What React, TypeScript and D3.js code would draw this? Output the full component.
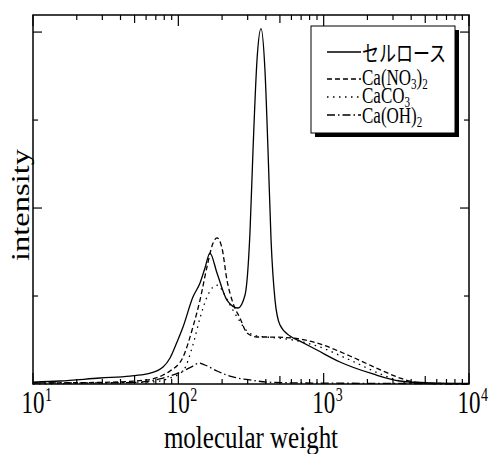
import React from 'react';
import * as d3 from 'd3';

// molecular weight vs intensity
const cellulose: [number, number][] = [
  [10, 0.011], [15.3, 0.017], [28.9, 0.034], [46.5, 0.045], [60.8, 0.057], [78.5, 0.097],
  [87.7, 0.148], [98, 0.239], [107.7, 0.324], [126, 0.494], [141, 0.574], [152.5, 0.659],
  [165, 0.744], [184.5, 0.631], [216, 0.477], [257.5, 0.432], [287.7, 0.506], [311, 0.858],
  [326.5, 1.33], [347.7, 1.84], [370.7, 2.02], [394.7, 1.78], [414, 1.33], [434.5, 0.818],
  [462.7, 0.477], [500.7, 0.335], [586.8, 0.273], [687, 0.244], [899, 0.193], [1294, 0.125],
  [2183, 0.057], [3350, 0.017], [5392, 0.006], [10000, 0.003],
];
const caNO3: [number, number][] = [
  [10, 0.006], [28.9, 0.009], [60.8, 0.023], [78.5, 0.051], [87.7, 0.074], [107.7, 0.153],
  [126, 0.324], [141, 0.477], [157.4, 0.665], [173.4, 0.801], [184.5, 0.83], [199.7, 0.773],
  [216, 0.591], [237.7, 0.46], [265.5, 0.375], [297, 0.29], [347.7, 0.267], [407, 0.267],
  [615, 0.261], [899, 0.233], [1517, 0.159], [2559, 0.074], [3350, 0.034], [4249, 0.011],
  [6321, 0.003], [10000, 0.0],
];
const caCO3: [number, number][] = [
  [10, 0.0], [28.9, 0.006], [63.8, 0.011], [87.7, 0.034], [107.7, 0.074], [126, 0.222],
  [141, 0.375], [157.4, 0.494], [173.4, 0.551], [187.5, 0.562], [203, 0.523], [226.8, 0.449],
  [253.5, 0.381], [297, 0.301], [347.7, 0.273], [407, 0.267], [615, 0.25], [899, 0.216],
  [1517, 0.136], [2559, 0.051], [3350, 0.017], [4603, 0.003], [10000, 0.0],
];
const caOH2: [number, number][] = [
  [10, 0.006], [28.9, 0.006], [54.5, 0.011], [78.5, 0.034], [107.7, 0.074], [126, 0.102],
  [138.7, 0.119], [152.5, 0.108], [184.5, 0.074], [237.7, 0.04], [311, 0.023], [407, 0.011],
  [687, 0.006], [3350, 0.003], [10000, 0.0],
];

const xMajor = [10, 100, 1000, 10000];
const xExponents = ['1', '2', '3', '4'];
const yMajor = [1, 2];
const yMinor = [0.5, 1.5];

const legendNames = ['セルロース', 'Ca(NO3)2', 'CaCO3', 'Ca(OH)2'];

const serif = '"Liberation Serif", "Times New Roman", serif';
const jp = '"Noto Sans CJK JP", sans-serif';

const App = () => {
  const left = 33, right = 469, top = 15, bottom = 384;
  const x = d3.scaleLog().domain([10, 10000]).range([left, right]);
  const y = d3.scaleLinear().domain([0, 2.097]).range([bottom, top]);

  const line = d3.line<[number, number]>()
    .x(d => x(d[0]))
    .y(d => y(d[1]))
    .curve(d3.curveMonotoneX);

  const series = [
    { data: cellulose, dash: null },
    { data: caNO3, dash: '5,3' },
    { data: caCO3, dash: '1.5,4.5' },
    { data: caOH2, dash: '8,3,1.5,3' },
  ];

  // minor ticks in each decade
  const minor: number[] = [];
  [10, 100, 1000].forEach(d => {
    for (let k = 2; k <= 9; k++) minor.push(d * k);
  });

  const sy = 1.35;

  return (
    <svg width={491} height={454} style={{ position: 'absolute', left: 0, top: 0, background: '#fff' }}>
      <g fill="none" stroke="#000" strokeWidth={1.3}>
        {series.map((s, i) => (
          <path key={i} d={line(s.data) || ''} strokeDasharray={s.dash || undefined} />
        ))}
      </g>

      {/* ticks */}
      <g stroke="#000" strokeWidth={1.2}>
        {minor.map(v => {
          const len = v / Math.pow(10, Math.floor(Math.log10(v) + 1e-9)) === 5 ? 8 : 5;
          return (
            <g key={v}>
              <line x1={x(v)} x2={x(v)} y1={bottom} y2={bottom - len} />
              <line x1={x(v)} x2={x(v)} y1={top} y2={top + len} />
            </g>
          );
        })}
        {xMajor.map(v => (
          <g key={v}>
            <line x1={x(v)} x2={x(v)} y1={bottom} y2={bottom - 11} />
            <line x1={x(v)} x2={x(v)} y1={top} y2={top + 11} />
          </g>
        ))}
        {yMajor.map(v => (
          <g key={v}>
            <line x1={left} x2={left + 9} y1={y(v)} y2={y(v)} />
            <line x1={right} x2={right - 9} y1={y(v)} y2={y(v)} />
          </g>
        ))}
        {yMinor.map(v => (
          <g key={v}>
            <line x1={left} x2={left + 5} y1={y(v)} y2={y(v)} />
            <line x1={right} x2={right - 5} y1={y(v)} y2={y(v)} />
          </g>
        ))}
      </g>
      <rect x={left} y={top} width={right - left} height={bottom - top} fill="none" stroke="#000" strokeWidth={1.5} />

      {/* tick labels */}
      {xMajor.map((v, i) => (
        <g key={v} transform={`translate(${x(v)},413) scale(1,${sy})`} fontFamily={serif}>
          <text textAnchor="middle" fontSize={23}>10</text>
          <text x={12} y={-9} fontSize={14}>{xExponents[i]}</text>
        </g>
      ))}

      <g transform={`translate(251,448) scale(1,1.25)`}>
        <text textAnchor="middle" fontFamily={serif} fontSize={25}>molecular weight</text>
      </g>
      <g transform={`translate(29,205) rotate(-90) scale(1.3,1)`}>
        <text textAnchor="middle" fontFamily={serif} fontSize={25}>intensity</text>
      </g>

      {/* legend */}
      <rect x={315} y={30} width={144} height={107} fill="#000" />
      <rect x={311} y={26} width={144} height={107} fill="#fff" stroke="#000" strokeWidth={1} />
      <g fill="none" stroke="#000" strokeWidth={1.3}>
        {series.map((s, i) => {
          const ly = [52, 79, 97, 115][i];
          return <line key={i} x1={327} x2={361} y1={ly} y2={ly} strokeDasharray={s.dash || undefined} />;
        })}
      </g>
      <g transform={`translate(362,61) scale(1,1.3)`}>
        <text fontFamily={jp} fontSize={17}>{legendNames[0]}</text>
      </g>
      <g transform={`translate(362,85) scale(1,${sy})`} fontFamily={serif} fontSize={17}>
        <text>Ca(NO<tspan fontSize={11} dy={3}>3</tspan><tspan dy={-3}>)</tspan><tspan fontSize={11} dy={3}>2</tspan></text>
      </g>
      <g transform={`translate(362,103) scale(1,${sy})`} fontFamily={serif} fontSize={17}>
        <text>CaCO<tspan fontSize={11} dy={3}>3</tspan></text>
      </g>
      <g transform={`translate(362,123) scale(1,${sy})`} fontFamily={serif} fontSize={17}>
        <text>Ca(OH)<tspan fontSize={11} dy={3}>2</tspan></text>
      </g>
    </svg>
  );
};

export default App;
